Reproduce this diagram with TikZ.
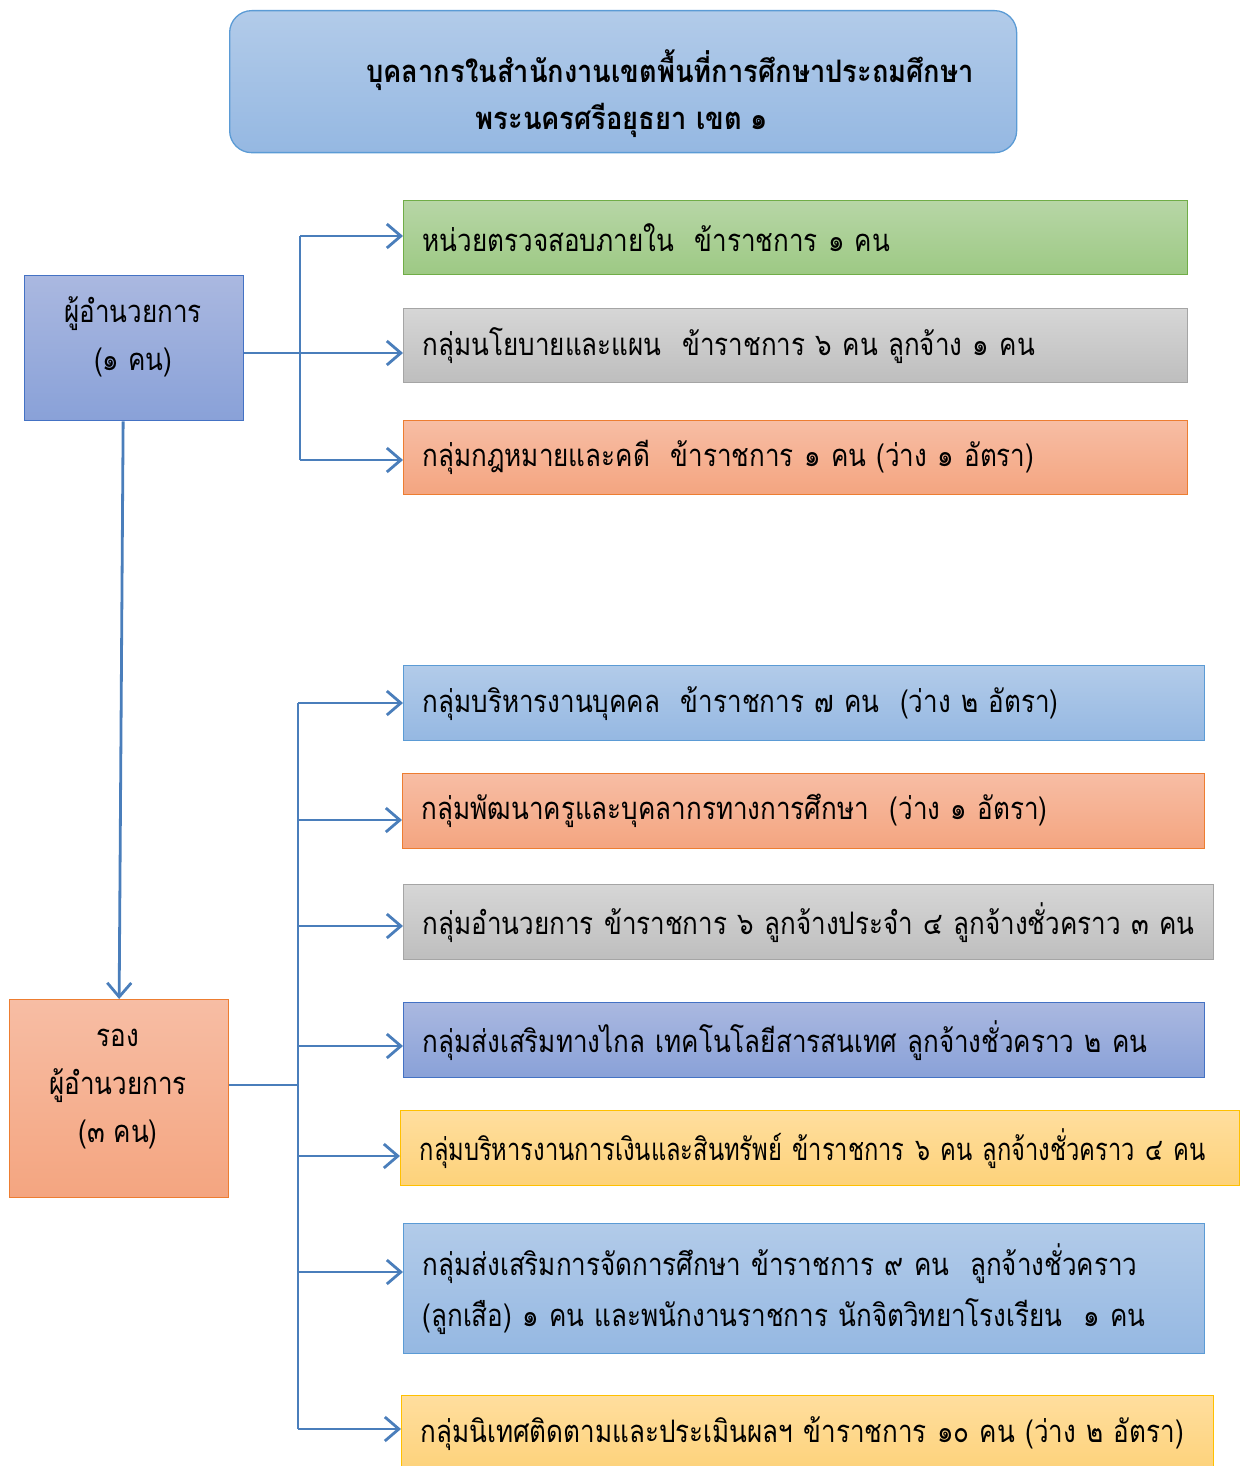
\documentclass[tikz,border=0pt]{standalone}
\usepackage{fontspec}
\newfontfamily\thai[Script=Thai,FakeStretch=0.84]{Loma}
\newfontfamily\thaiN[Script=Thai,FakeStretch=0.765]{Loma}
\newfontfamily\thaiT[Script=Thai,FakeStretch=0.88]{Loma}
\usetikzlibrary{arrows.meta,calc}
\definecolor{ln}{HTML}{4A7EBB}
\definecolor{grT}{RGB}{183,214,166}\definecolor{grB}{RGB}{157,201,132}\definecolor{grD}{RGB}{112,173,71}
\definecolor{gyT}{RGB}{214,214,214}\definecolor{gyB}{RGB}{190,190,190}\definecolor{gyD}{RGB}{165,165,165}
\definecolor{orT}{RGB}{247,189,164}\definecolor{orB}{RGB}{244,165,128}\definecolor{orD}{RGB}{237,125,49}
\definecolor{blT}{RGB}{178,203,233}\definecolor{blB}{RGB}{149,184,226}\definecolor{blD}{RGB}{91,155,213}
\definecolor{inT}{RGB}{170,184,224}\definecolor{inB}{RGB}{137,161,216}\definecolor{inD}{RGB}{68,114,196}
\definecolor{ylT}{RGB}{255,222,158}\definecolor{ylB}{RGB}{253,210,122}\definecolor{ylD}{RGB}{255,192,0}
\begin{document}
\begin{tikzpicture}[x=1pt,y=-1pt,
  conn/.style={ln,line width=2.8pt},
  arr/.style={conn,-{Straight Barb[length=14pt,width=24pt,line width=2.8pt]}},
  bx/.style={draw,line width=1.3pt,anchor=north west,align=left,inner xsep=19pt,inner ysep=0pt,
    font=\thai\fontsize{31}{51}\selectfont},
  cbx/.style={draw,line width=1.3pt,anchor=north west,inner sep=0pt},
  ctxt/.style={align=center,inner sep=0pt,font=\thai\fontsize{31}{48}\selectfont},
  fgreen/.style={top color=grT,bottom color=grB,draw=grD},
  fgray/.style={top color=gyT,bottom color=gyB,draw=gyD},
  forng/.style={top color=orT,bottom color=orB,draw=orD},
  fblue/.style={top color=blT,bottom color=blB,draw=blD},
  findg/.style={top color=inT,bottom color=inB,draw=inD},
  fyell/.style={top color=ylT,bottom color=ylB,draw=ylD}
]
\useasboundingbox (0,0) rectangle (1243,1466);

% title
\node[draw=blD,line width=1.3pt,rounded corners=22pt,
  top color=blT,bottom color=blB,
  minimum width=787pt,minimum height=142pt,anchor=north west,inner sep=0pt] (title) at (229,10) {};
\node[font=\thaiT\bfseries\fontsize{31}{36}\selectfont,inner sep=0pt] (t1) at (670,70) {บุคลากรในสำนักงานเขตพื้นที่การศึกษาประถมศึกษา};
\node[font=\thaiT\bfseries\fontsize{31}{36}\selectfont,inner sep=0pt] (t2) at (622,120) {พระนครศรีอยุธยา เขต ๑};

% director
\node[cbx,findg,minimum width=219pt,minimum height=145pt] (dir) at (24,275) {};
\node[ctxt] (dirt) at (133,337) {ผู้อำนวยการ\\(๑ คน)};
% deputy
\node[cbx,forng,minimum width=219pt,minimum height=198pt] (dep) at (9,999) {};
\node[ctxt] (dept) at (118,1089) {รอง\\ผู้อำนวยการ\\(๓ คน)};

% right boxes
\node[bx,fgreen,text width=746pt,minimum height=74pt] (b1) at (403,200) {หน่วยตรวจสอบภายใน\ \ ข้าราชการ ๑ คน};
\node[bx,fgray,text width=746pt,minimum height=74pt] (b2) at (403,308) {กลุ่มนโยบายและแผน\ \ ข้าราชการ ๖ คน ลูกจ้าง ๑ คน};
\node[bx,forng,text width=746pt,minimum height=74pt] (b3) at (403,420) {กลุ่มกฎหมายและคดี\ \ ข้าราชการ ๑ คน (ว่าง ๑ อัตรา)};

\node[bx,fblue,text width=763pt,minimum height=75pt] (b4) at (403,665) {กลุ่มบริหารงานบุคคล\ \ ข้าราชการ ๗ คน\ \ (ว่าง ๒ อัตรา)};
\node[bx,forng,text width=764pt,minimum height=75pt] (b5) at (402,773) {กลุ่มพัฒนาครูและบุคลากรทางการศึกษา\ \ (ว่าง ๑ อัตรา)};
\node[bx,fgray,text width=772pt,minimum height=75pt] (b6) at (403,884) {กลุ่มอำนวยการ ข้าราชการ ๖ ลูกจ้างประจำ ๔ ลูกจ้างชั่วคราว ๓ คน};
\node[bx,findg,text width=763pt,minimum height=75pt] (b7) at (403,1002) {กลุ่มส่งเสริมทางไกล เทคโนโลยีสารสนเทศ ลูกจ้างชั่วคราว ๒ คน};
\node[bx,fyell,text width=801pt,minimum height=75pt,font=\thaiN\fontsize{31}{51}\selectfont] (b8) at (400,1110) {\mbox{กลุ่มบริหารงานการเงินและสินทรัพย์ ข้าราชการ ๖ คน ลูกจ้างชั่วคราว ๔ คน}};
\node[bx,fblue,text width=763pt,minimum height=130pt] (b9) at (403,1223) {กลุ่มส่งเสริมการจัดการศึกษา ข้าราชการ ๙ คน\ \ ลูกจ้างชั่วคราว\\(ลูกเสือ) ๑ คน และพนักงานราชการ นักจิตวิทยาโรงเรียน\ \ ๑ คน};
\node[bx,fyell,text width=774pt,minimum height=76pt] (b10) at (401,1395) {กลุ่มนิเทศติดตามและประเมินผลฯ ข้าราชการ ๑๐ คน (ว่าง ๒ อัตรา)};

% director connectors
\coordinate (j1) at (300,353);
\coordinate (u1) at (300,236);
\coordinate (u3) at (300,460);
\draw[conn] (dir.east |- j1) -- (j1);
\draw[conn] (u1) -- (u3);
\draw[arr] (u1) -- (b1.west |- u1);
\draw[arr] (j1) -- (b2.west |- j1);
\draw[arr] (u3) -- (b3.west |- u3);

% director to deputy
\draw[arr] ([xshift=-11pt]dir.south) -- (dep.north);

% deputy connectors
\coordinate (j2) at (298,1085);
\coordinate (v4) at (298,703);
\coordinate (v5) at (298,820);
\coordinate (v6) at (298,926);
\coordinate (v7) at (298,1046);
\coordinate (v8) at (298,1156);
\coordinate (v9) at (298,1272);
\coordinate (v10) at (298,1429);
\draw[conn] (dep.east |- j2) -- (j2);
\draw[conn] (v4) -- (v10);
\draw[arr] (v4) -- (b4.west |- v4);
\draw[arr] (v5) -- (b5.west |- v5);
\draw[arr] (v6) -- (b6.west |- v6);
\draw[arr] (v7) -- (b7.west |- v7);
\draw[arr] (v8) -- (b8.west |- v8);
\draw[arr] (v9) -- (b9.west |- v9);
\draw[arr] (v10) -- (b10.west |- v10);
\end{tikzpicture}
\end{document}
